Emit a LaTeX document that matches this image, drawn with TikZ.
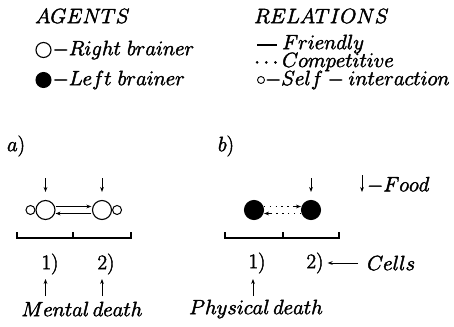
\documentclass[tikz,border=0pt]{standalone}
\usetikzlibrary{arrows.meta,calc}
\newcommand{\fbon}{\special{pdf:literal direct 2 Tr 0.45 w}}
\newcommand{\fboff}{\special{pdf:literal direct 0 Tr}}
\newcommand{\mt}[1]{\fbon$#1$\fboff}
\begin{document}
\begin{tikzpicture}[x=1pt,y=-1pt,
  txt/.style={inner sep=0pt,font=\fontsize{20.5}{22}\selectfont},
  arr/.style={line width=1pt,-{Stealth[length=5pt,width=3.8pt]}},
  big/.style={circle,draw,line width=1.1pt,minimum size=19pt,inner sep=0pt},
  bigf/.style={circle,draw,fill=black,line width=1.1pt,minimum size=19pt,inner sep=0pt},
  small/.style={circle,draw,line width=1pt,minimum size=9pt,inner sep=0pt},
  dotl/.style={line width=1.3pt,dash pattern=on 1.3pt off 4.5pt},
  brk/.style={line width=1.1pt}]
\useasboundingbox (0,0) rectangle (454,326);
% legend
\node[txt,anchor=west] (agents) at (35,16) {\mt{AGENTS}};
\node[txt,anchor=west] (relations) at (254,16) {\mt{RELATIONS}};
\node[circle,draw,line width=1.1pt,minimum size=15pt,inner sep=0pt] (rc) at (43.5,50) {};
\node[txt,anchor=west] (rtxt) at ([xshift=1pt]rc.east) {\mt{-Right\ brainer}};
\node[circle,draw,fill=black,line width=1pt,minimum size=15pt,inner sep=0pt] (lc) at (43.5,80) {};
\node[txt,anchor=west] (ltxt) at ([xshift=1pt]lc.east) {\mt{-Left\ brainer}};
\coordinate (fd1) at (257,45);
\coordinate (fd2) at (277,45);
\draw[line width=1.1pt] (fd1) -- (fd2);
\node[txt,anchor=west] (fr) at (282,44) {\mt{Friendly}};
\node[txt,anchor=west] (cdots) at (254,63) {\mt{\cdots}};
\node[txt,anchor=west] (comp) at (282,62) {\mt{Competitive}};
\node[circle,draw,line width=0.9pt,minimum size=7pt,inner sep=0pt] (sc) at (261,80) {};
\node[txt,anchor=west] (self) at (sc.east) {\mt{-Self-interaction}};
% panel a
\node[txt] (la) at (16,146) {\mt{a)}};
\node[big] (A1) at (45.5,210) {};
\node[big] (A2) at (102,210) {};
\node[small,anchor=east] (s1) at (A1.west) {};
\node[small,anchor=west] (s2) at (A2.east) {};
\coordinate (fa1) at (45.5,178);
\coordinate (fa2) at (102,178);
\draw[arr] (fa1) -- ([yshift=8pt]A1.north);
\draw[arr] (fa2) -- ([yshift=8pt]A2.north);
\draw[arr] ([yshift=3.5pt]A1.east) -- ([yshift=3.5pt,xshift=-0.6pt]A2.west);
\draw[arr] ([yshift=-3.5pt,xshift=-0.6pt]A2.west) -- ([yshift=-3.5pt]A1.east);
\draw[brk] (17,232) -- (17,238) -- (131,238) -- (131,232) (73,238) -- (73,232);
\node[txt] (a1) at (50,264) {\mt{1)}};
\node[txt] (a2) at (106,264) {\mt{2)}};
\node[txt] (md) at (82,309) {\mt{Mental\,death}};
\coordinate (ua1) at (45.5,296);
\coordinate (ua2) at (102,296);
\draw[arr] (ua1) -- ++(0,-17);
\draw[arr] (ua2) -- ++(0,-17);
% panel b
\node[txt] (lb) at (226,146) {\mt{b)}};
\node[bigf] (B1) at (254,210) {};
\node[bigf] (B2) at (311,210) {};
\coordinate (fb2) at (311,178);
\draw[arr] (fb2) -- ([yshift=8pt]B2.north);
\draw[dotl] ([yshift=3.5pt]B1.east) -- ([yshift=3.5pt,xshift=-6pt]B2.west);
\draw[arr] ([yshift=3.5pt,xshift=-8pt]B2.west) -- ([yshift=3.5pt]B2.west);
\draw[dotl] ([yshift=-3.5pt]B2.west) -- ([yshift=-3.5pt,xshift=6pt]B1.east);
\draw[arr] ([yshift=-3.5pt,xshift=8pt]B1.east) -- ([yshift=-3.5pt]B1.east);
\draw[brk] (225,232) -- (225,238) -- (339,238) -- (339,232) (283,238) -- (283,232);
\node[txt] (b1) at (257,263) {\mt{1)}};
\node[txt] (b2) at (315,263) {\mt{2)}};
\node[txt,anchor=west] (cells) at (367,263) {\mt{Cells}};
\coordinate (cs) at (358,263);
\draw[arr] (cs) -- ([xshift=4pt]b2.east);
\coordinate (ub1) at (253,296);
\draw[arr] (ub1) -- ++(0,-17);
\node[txt] (pd) at (256,309) {\mt{Physical\,death}};
\coordinate (food) at (362,175);
\draw[arr] (food) -- ++(0,17);
\node[txt,anchor=west] (foodt) at (367,185) {\mt{-Food}};
\end{tikzpicture}
\end{document}
